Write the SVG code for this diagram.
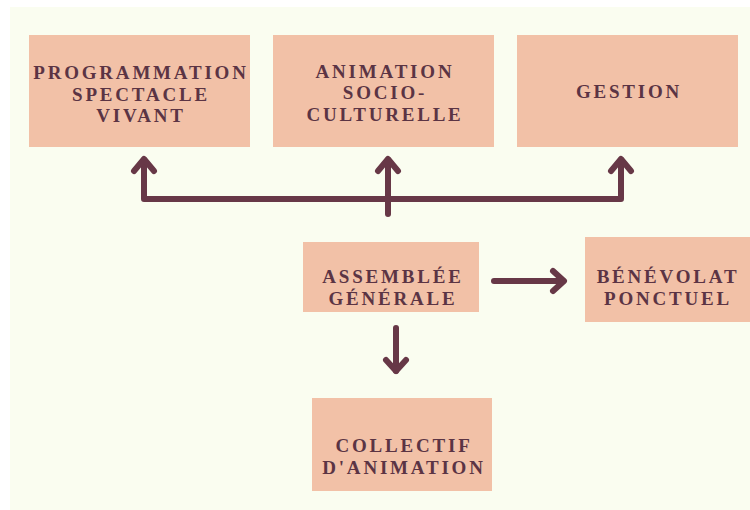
<svg xmlns="http://www.w3.org/2000/svg" width="750" height="510" viewBox="0 0 750 510">
<style>
.box{fill:#f2c1a7}
.t{font-family:"Liberation Serif","Times New Roman",serif;font-weight:bold;font-size:19px;letter-spacing:2.8px;fill:#5b3444;text-anchor:middle}
.c{fill:none;stroke:#673847;stroke-width:6;stroke-linecap:round;stroke-linejoin:round}
</style>
<rect x="0" y="0" width="750" height="510" fill="#ffffff"/>
<rect x="10" y="7" width="740" height="503" fill="#fafdf0"/>
<g id="prog">
<rect class="box" x="29" y="35" width="221" height="112"/>
<text class="t"><tspan x="141" y="79">PROGRAMMATION</tspan><tspan x="141" y="100.5">SPECTACLE</tspan><tspan x="141" y="122">VIVANT</tspan></text>
</g>
<g id="anim">
<rect class="box" x="273" y="35" width="221" height="112"/>
<text class="t"><tspan x="385" y="77.5">ANIMATION</tspan><tspan x="385" y="99">SOCIO-</tspan><tspan x="385" y="120.5">CULTURELLE</tspan></text>
</g>
<g id="gestion">
<rect class="box" x="517" y="35" width="221" height="112"/>
<text class="t" x="629" y="98">GESTION</text>
</g>
<g id="ag">
<rect class="box" x="303" y="242" width="176" height="70"/>
<text class="t"><tspan x="393" y="283">ASSEMBLÉE</tspan><tspan x="393" y="305">GÉNÉRALE</tspan></text>
</g>
<g id="benevolat">
<rect class="box" x="585" y="237" width="165" height="85"/>
<text class="t"><tspan x="668" y="283">BÉNÉVOLAT</tspan><tspan x="668" y="305">PONCTUEL</tspan></text>
</g>
<g id="collectif">
<rect class="box" x="312" y="398" width="180" height="93"/>
<text class="t"><tspan x="404" y="452">COLLECTIF</tspan><tspan x="404" y="473.5">D'ANIMATION</tspan></text>
</g>
<g id="connectors">
<path class="c" d="M144 160 V199 H621 V160"/>
<path class="c" d="M388 160 V214"/>
<path class="c" d="M134 171 L144 159 L154 171"/>
<path class="c" d="M378 171 L388 159 L398 171"/>
<path class="c" d="M611 171 L621 159 L631 171"/>
<path class="c" d="M494 281 H563"/>
<path class="c" d="M553 271 L564 281 L553 291"/>
<path class="c" d="M396 328 V371"/>
<path class="c" d="M386 360 L396 371 L406 360"/>
</g>
</svg>
